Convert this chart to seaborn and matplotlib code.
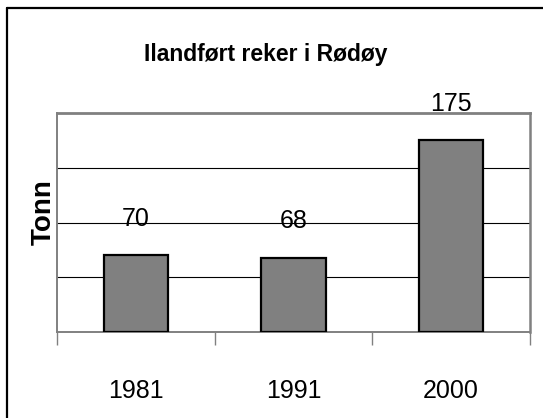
import matplotlib
matplotlib.use('Agg')
import matplotlib.pyplot as plt
from matplotlib.lines import Line2D
import seaborn as sns
import pandas as pd

# Ilandført reker i Rødøy (tonn)
years = ['1981', '1991', '2000']
tonn = [70, 68, 175]
title = 'Ilandført reker i Rødøy'
ylabel = 'Tonn'

sns.set_style('white')
plt.rcParams['font.family'] = ['Liberation Sans', 'DejaVu Sans']
plt.rcParams['text.color'] = 'black'
plt.rcParams['xtick.color'] = 'black'

W, H = 543, 418
fig = plt.figure(figsize=(W / 100, H / 100), dpi=100)
ax = fig.add_axes([57 / W, 1 - 332 / H, 473 / W, 219 / H])

df = pd.DataFrame({'year': years, 'tonn': tonn})
sns.barplot(data=df, x='year', y='tonn', color='#808080', saturation=1,
            width=0.406, edgecolor='black', linewidth=1.6, ax=ax, zorder=3)

ax.set_ylim(0, 200)
ax.set_xlim(-0.5, len(years) - 0.5)
ax.set_yticks([50, 100, 150])
ax.set_yticklabels([])
ax.tick_params(axis='y', length=0)
ax.grid(axis='y', color='black', linewidth=0.8, zorder=0)
ax.set_axisbelow(True)
ax.set_xlabel('')
ax.set_ylabel('')

# category labels, tick marks between categories
ax.set_xticks(range(len(years)))
ax.set_xticklabels(years, fontsize=18, color='black')
ax.tick_params(axis='x', which='major', length=0, pad=34)
ax.set_xticks([i - 0.5 for i in range(len(years) + 1)], minor=True)
ax.tick_params(axis='x', which='minor', bottom=True, length=9.5, width=1,
               color='#808080', direction='out')

for s in ax.spines.values():
    s.set_color('#808080')
    s.set_linewidth(1.4)
ax.spines['top'].set_linewidth(2)
ax.spines['right'].set_linewidth(1.8)

# data labels
for i, v in enumerate(tonn):
    ax.annotate(str(v), (i, v), xytext=(0, 26.5), textcoords='offset points',
                ha='center', va='center', fontsize=18, color='black',
                annotation_clip=False, zorder=5)

fig.text(266 / W, 1 - 61 / H, title, ha='center', va='baseline',
         fontsize=16.5, fontweight='bold', color='black')
fig.text(44 / W, 1 - 212 / H, ylabel, ha='center', va='center', rotation=90,
         fontsize=20, fontweight='bold', color='black')

# outer chart frame (top and left edges visible)
fig.add_artist(Line2D([7 / W, 1.0], [1 - 8 / H, 1 - 8 / H], color='black',
                      linewidth=1.6, transform=fig.transFigure))
fig.add_artist(Line2D([7 / W, 7 / W], [0.0, 1 - 8 / H], color='black',
                      linewidth=1.6, transform=fig.transFigure))

fig.savefig('out.png', dpi=100)
